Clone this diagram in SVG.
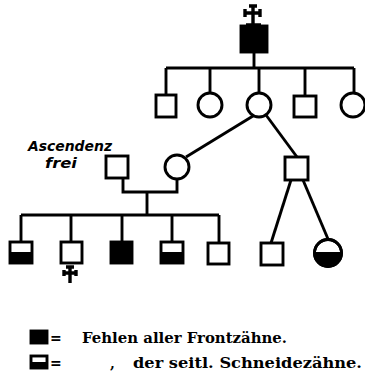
<svg xmlns="http://www.w3.org/2000/svg" width="365" height="385" viewBox="0 0 365 385">
<style>
.ln{stroke:#000;stroke-width:2.9;fill:none}
.sq{stroke:#000;stroke-width:2.9;fill:#fff}
.fl{fill:#000;stroke:#000;stroke-width:2.9}
.hf{fill:#000;stroke:none}
.cr{stroke:#000;stroke-width:3.4;fill:none;stroke-linecap:butt}
.lg{font-family:"DejaVu Serif","Liberation Serif",serif;font-weight:bold;font-size:14px;fill:#000}
.as{font-family:"DejaVu Sans","Liberation Sans",sans-serif;font-weight:bold;font-style:italic;font-size:13.5px;fill:#000}
</style>
<rect width="365" height="385" fill="#fff"/>
<g id="connectors">
<line class="ln" x1="254" y1="52" x2="254" y2="68"/>
<line class="ln" x1="166" y1="68" x2="354" y2="68"/>
<line class="ln" x1="166" y1="68" x2="166" y2="95"/>
<line class="ln" x1="210" y1="68" x2="210" y2="93"/>
<line class="ln" x1="259" y1="68" x2="259" y2="93"/>
<line class="ln" x1="305" y1="68" x2="305" y2="96"/>
<line class="ln" x1="354" y1="68" x2="354" y2="93"/>
<line class="ln" x1="253" y1="116" x2="186" y2="157"/>
<line class="ln" x1="266" y1="115" x2="297" y2="157"/>
<polyline class="ln" points="123,178 123,192 177,192 177,179"/>
<line class="ln" x1="147" y1="192" x2="147" y2="215"/>
<line class="ln" x1="21" y1="215" x2="219" y2="215"/>
<line class="ln" x1="21" y1="215" x2="21" y2="242"/>
<line class="ln" x1="71" y1="215" x2="71" y2="242"/>
<line class="ln" x1="122" y1="215" x2="122" y2="242"/>
<line class="ln" x1="172" y1="215" x2="172" y2="242"/>
<line class="ln" x1="219" y1="215" x2="219" y2="243"/>
<line class="ln" x1="291" y1="180" x2="271" y2="243"/>
<line class="ln" x1="303" y1="180" x2="328" y2="239"/>
</g>
<g id="top-father">
<path class="cr" d="M253,5 V26 M244,13 H261 M249,6 H257 M245,9 V17 M260,9 V17 M246,25 H261"/>
<rect class="fl" x="241" y="26" width="26" height="26"/>
</g>
<g id="g2-1"><rect class="sq" x="156" y="95" width="20" height="22"/></g>
<g id="g2-2"><circle class="sq" cx="210" cy="105" r="12"/></g>
<g id="g2-3"><circle class="sq" cx="259" cy="105" r="12"/></g>
<g id="g2-4"><rect class="sq" x="294" y="96" width="22" height="21"/></g>
<g id="g2-5"><circle class="sq" cx="353" cy="105" r="12"/></g>
<g id="ascendenz-frei">
<text class="as" x="28" y="151" textLength="84" lengthAdjust="spacingAndGlyphs">Ascendenz</text>
<text class="as" x="45" y="168" textLength="32" lengthAdjust="spacingAndGlyphs">frei</text>
<rect class="sq" x="106" y="156" width="22" height="22"/>
</g>
<g id="g3-mother"><circle class="sq" cx="177" cy="167" r="12"/></g>
<g id="g3-right"><rect class="sq" x="285" y="157" width="23" height="23"/></g>
<g id="c1"><rect class="sq" x="10" y="242" width="22" height="21"/><rect class="hf" x="10" y="252" width="22" height="11"/></g>
<g id="c2"><rect class="sq" x="61" y="242" width="21" height="21"/>
<path class="cr" d="M70,266 V283 M63,273 H77 M66,267 H74 M64,270 V276 M76,270 V276"/></g>
<g id="c3"><rect class="fl" x="111" y="242" width="21" height="21"/></g>
<g id="c4"><rect class="sq" x="161" y="242" width="22" height="21"/><rect class="hf" x="161" y="252" width="22" height="11"/></g>
<g id="c5"><rect class="sq" x="208" y="243" width="21" height="21"/></g>
<g id="c6"><rect class="sq" x="261" y="243" width="22" height="22"/></g>
<g id="c7"><circle class="sq" cx="328" cy="253" r="13.5"/><path class="hf" d="M314.5,252 H341.5 A13.5,13.5 0 0 1 314.5,252 Z"/><circle cx="328" cy="253" r="13.5" class="ln"/></g>
<g id="legend">
<rect class="fl" x="31" y="331" width="16" height="12"/>
<text class="lg" x="50" y="343">=</text>
<text class="lg" x="82" y="343" textLength="205" lengthAdjust="spacingAndGlyphs">Fehlen aller Frontzähne.</text>
<rect class="sq" x="31" y="356" width="16" height="12"/><rect class="hf" x="31" y="362" width="16" height="6"/>
<text class="lg" x="50" y="368">=</text>
<text class="lg" x="110" y="368">,</text>
<text class="lg" x="133" y="368" textLength="229" lengthAdjust="spacingAndGlyphs">der seitl. Schneidezähne.</text>
</g>
</svg>
